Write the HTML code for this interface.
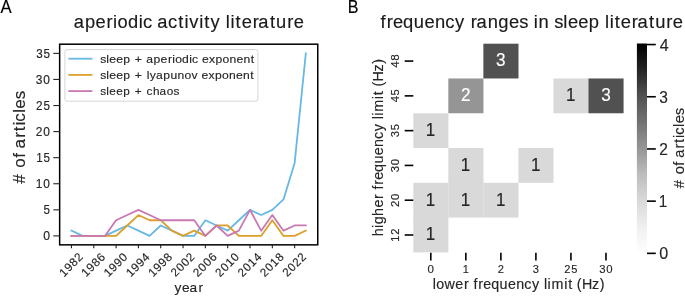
<!DOCTYPE html>
<html><head><meta charset="utf-8"><title>figure</title>
<style>html,body{margin:0;padding:0;background:#fff;width:685px;height:296px;overflow:hidden}
svg text{font-family:"Liberation Sans",sans-serif}</style></head>
<body><svg width="685" height="296" viewBox="0 0 685 296" style="display:block;will-change:transform;font-family:&quot;Liberation Sans&quot;,sans-serif"><defs><linearGradient id="cb" x1="0" y1="0" x2="0" y2="1"><stop offset="0.0000" stop-color="#000000"/><stop offset="0.0312" stop-color="#080808"/><stop offset="0.0625" stop-color="#111111"/><stop offset="0.0938" stop-color="#1b1b1b"/><stop offset="0.1250" stop-color="#242424"/><stop offset="0.1562" stop-color="#2f2f2f"/><stop offset="0.1875" stop-color="#3a3a3a"/><stop offset="0.2188" stop-color="#464646"/><stop offset="0.2500" stop-color="#515151"/><stop offset="0.2812" stop-color="#5a5a5a"/><stop offset="0.3125" stop-color="#626262"/><stop offset="0.3438" stop-color="#6a6a6a"/><stop offset="0.3750" stop-color="#727272"/><stop offset="0.4062" stop-color="#7b7b7b"/><stop offset="0.4375" stop-color="#848484"/><stop offset="0.4688" stop-color="#8d8d8d"/><stop offset="0.5000" stop-color="#959595"/><stop offset="0.5312" stop-color="#9f9f9f"/><stop offset="0.5625" stop-color="#a9a9a9"/><stop offset="0.5938" stop-color="#b3b3b3"/><stop offset="0.6250" stop-color="#bdbdbd"/><stop offset="0.6562" stop-color="#c4c4c4"/><stop offset="0.6875" stop-color="#cbcbcb"/><stop offset="0.7188" stop-color="#d2d2d2"/><stop offset="0.7500" stop-color="#d9d9d9"/><stop offset="0.7812" stop-color="#dfdfdf"/><stop offset="0.8125" stop-color="#e4e4e4"/><stop offset="0.8438" stop-color="#eaeaea"/><stop offset="0.8750" stop-color="#f0f0f0"/><stop offset="0.9062" stop-color="#f4f4f4"/><stop offset="0.9375" stop-color="#f7f7f7"/><stop offset="0.9688" stop-color="#fbfbfb"/><stop offset="1.0000" stop-color="#ffffff"/></linearGradient></defs><rect width="685" height="296" fill="#fff"/><polyline points="71.45,230.69 82.61,235.90 93.77,235.90 104.93,235.90 116.09,230.69 127.25,225.47 138.41,230.69 149.57,235.90 160.73,225.47 171.89,230.69 183.05,235.90 194.21,235.90 205.37,220.25 216.53,225.47 227.69,230.69 238.85,220.25 250.01,209.83 261.17,215.04 272.33,209.83 283.49,199.40 294.65,162.89 305.81,53.38" fill="none" stroke="#66B8E6" stroke-width="1.8" stroke-linejoin="round" stroke-linecap="square"/><polyline points="71.45,235.90 82.61,235.90 93.77,235.90 104.93,235.90 116.09,235.90 127.25,225.47 138.41,215.04 149.57,220.25 160.73,220.25 171.89,230.69 183.05,235.90 194.21,230.69 205.37,235.90 216.53,225.47 227.69,225.47 238.85,235.90 250.01,235.90 261.17,235.90 272.33,220.25 283.49,235.90 294.65,235.90 305.81,230.69" fill="none" stroke="#DBA02A" stroke-width="1.8" stroke-linejoin="round" stroke-linecap="square"/><polyline points="71.45,235.90 82.61,235.90 93.77,235.90 104.93,235.90 116.09,220.25 127.25,215.04 138.41,209.83 149.57,215.04 160.73,220.25 171.89,220.25 183.05,220.25 194.21,220.25 205.37,235.90 216.53,225.47 227.69,235.90 238.85,230.69 250.01,209.83 261.17,230.69 272.33,215.04 283.49,230.69 294.65,225.47 305.81,225.47" fill="none" stroke="#C878B2" stroke-width="1.8" stroke-linejoin="round" stroke-linecap="square"/><rect x="64.9" y="49.6" width="193.0" height="51.6" rx="2.2" fill="#fff" fill-opacity="0.8" stroke="#d6d6d6" stroke-width="1"/><line x1="68.4" y1="58.70" x2="92.4" y2="58.70" stroke="#66B8E6" stroke-width="1.8"/><text transform="scale(1.0332,1)" x="96.93 102.84 105.75 112.42 119.18 130.38 141.46 148.68 155.47 162.49 166.69 169.55 176.25 183.22 185.93 195.54 202.34 208.53 215.26 222.03 228.82 235.57 242.70" y="63.20" font-size="11.76" fill="#262626" stroke="#262626" stroke-width="0.15">sleep+aperiodicexponent</text><line x1="68.4" y1="74.90" x2="92.4" y2="74.90" stroke="#DBA02A" stroke-width="1.8"/><text transform="scale(1.0314,1)" x="97.10 103.01 105.94 112.62 119.39 130.60 142.29 145.31 151.15 158.38 165.21 172.14 178.89 185.72 195.47 202.28 208.48 215.22 222.00 228.80 235.56 242.70" y="79.35" font-size="11.76" fill="#262626" stroke="#262626" stroke-width="0.15">sleep+lyapunovexponent</text><line x1="68.4" y1="91.10" x2="92.4" y2="91.10" stroke="#C878B2" stroke-width="1.8"/><text transform="scale(1.0022,1)" x="100.01 106.05 109.12 115.99 122.97 134.51 146.22 152.63 159.17 166.45 173.16" y="95.50" font-size="11.76" fill="#262626" stroke="#262626" stroke-width="0.15">sleep+chaos</text><rect x="59.65" y="44.2" width="258.10" height="200.65" fill="none" stroke="#000" stroke-width="1.5"/><line x1="53.3" y1="235.90" x2="59.65" y2="235.90" stroke="#222" stroke-width="1.1"/><text transform="scale(1.0020,1)" x="43.07" y="240.11" font-size="12.18" fill="#262626" stroke="#262626" stroke-width="0.15">0</text><line x1="53.3" y1="209.83" x2="59.65" y2="209.83" stroke="#222" stroke-width="1.1"/><text transform="scale(0.9524,1)" x="45.70" y="213.97" font-size="12.18" fill="#262626" stroke="#262626" stroke-width="0.15">5</text><line x1="53.3" y1="183.75" x2="59.65" y2="183.75" stroke="#222" stroke-width="1.1"/><text transform="scale(0.9784,1)" x="36.61 44.19" y="187.96" font-size="12.18" fill="#262626" stroke="#262626" stroke-width="0.15">10</text><line x1="53.3" y1="157.68" x2="59.65" y2="157.68" stroke="#222" stroke-width="1.1"/><text transform="scale(0.9524,1)" x="37.95 45.70" y="161.82" font-size="12.18" fill="#262626" stroke="#262626" stroke-width="0.15">15</text><line x1="53.3" y1="131.60" x2="59.65" y2="131.60" stroke="#222" stroke-width="1.1"/><text transform="scale(0.9829,1)" x="36.34 43.97" y="135.81" font-size="12.18" fill="#262626" stroke="#262626" stroke-width="0.15">20</text><line x1="53.3" y1="105.53" x2="59.65" y2="105.53" stroke="#222" stroke-width="1.1"/><text transform="scale(0.9575,1)" x="37.64 45.44" y="109.73" font-size="12.18" fill="#262626" stroke="#262626" stroke-width="0.15">25</text><line x1="53.3" y1="79.45" x2="59.65" y2="79.45" stroke="#222" stroke-width="1.1"/><text transform="scale(0.9823,1)" x="36.49 44.00" y="83.66" font-size="12.18" fill="#262626" stroke="#262626" stroke-width="0.15">30</text><line x1="53.3" y1="53.38" x2="59.65" y2="53.38" stroke="#222" stroke-width="1.1"/><text transform="scale(0.9574,1)" x="37.77 45.45" y="57.58" font-size="12.18" fill="#262626" stroke="#262626" stroke-width="0.15">35</text><line x1="71.45" y1="244.85" x2="71.45" y2="248.3" stroke="#222" stroke-width="1.1"/><g transform="translate(70.95,264.60) rotate(-45)"><text transform="scale(0.9915,1)" x="-14.16 -6.94 0.24 7.32" y="4.06" font-size="11.76" fill="#262626" stroke="#262626" stroke-width="0.15">1982</text></g><line x1="93.77" y1="244.85" x2="93.77" y2="248.3" stroke="#222" stroke-width="1.1"/><g transform="translate(93.27,264.60) rotate(-45)"><text transform="scale(1.0095,1)" x="-14.19 -7.10 -0.04 7.04" y="4.06" font-size="11.76" fill="#262626" stroke="#262626" stroke-width="0.15">1986</text></g><line x1="116.09" y1="244.85" x2="116.09" y2="248.3" stroke="#222" stroke-width="1.1"/><g transform="translate(115.59,264.60) rotate(-45)"><text transform="scale(1.0014,1)" x="-14.25 -7.10 0.01 7.13" y="4.06" font-size="11.76" fill="#262626" stroke="#262626" stroke-width="0.15">1990</text></g><line x1="138.41" y1="244.85" x2="138.41" y2="248.3" stroke="#222" stroke-width="1.1"/><g transform="translate(137.91,264.60) rotate(-45)"><text transform="scale(1.0008,1)" x="-14.32 -7.16 -0.04 7.14" y="4.06" font-size="11.76" fill="#262626" stroke="#262626" stroke-width="0.15">1994</text></g><line x1="160.73" y1="244.85" x2="160.73" y2="248.3" stroke="#222" stroke-width="1.1"/><g transform="translate(160.23,264.60) rotate(-45)"><text transform="scale(1.0069,1)" x="-14.19 -7.08 -0.00 7.07" y="4.06" font-size="11.76" fill="#262626" stroke="#262626" stroke-width="0.15">1998</text></g><line x1="183.05" y1="244.85" x2="183.05" y2="248.3" stroke="#222" stroke-width="1.1"/><g transform="translate(182.55,264.60) rotate(-45)"><text transform="scale(0.9829,1)" x="-14.14 -6.78 0.47 7.61" y="4.06" font-size="11.76" fill="#262626" stroke="#262626" stroke-width="0.15">2002</text></g><line x1="205.37" y1="244.85" x2="205.37" y2="248.3" stroke="#222" stroke-width="1.1"/><g transform="translate(204.87,264.60) rotate(-45)"><text transform="scale(1.0005,1)" x="-14.17 -6.94 0.18 7.33" y="4.06" font-size="11.76" fill="#262626" stroke="#262626" stroke-width="0.15">2006</text></g><line x1="227.69" y1="244.85" x2="227.69" y2="248.3" stroke="#222" stroke-width="1.1"/><g transform="translate(227.19,264.60) rotate(-45)"><text transform="scale(0.9807,1)" x="-14.36 -6.98 0.25 7.55" y="4.06" font-size="11.76" fill="#262626" stroke="#262626" stroke-width="0.15">2010</text></g><line x1="250.01" y1="244.85" x2="250.01" y2="248.3" stroke="#222" stroke-width="1.1"/><g transform="translate(249.51,264.60) rotate(-45)"><text transform="scale(0.9803,1)" x="-14.42 -7.04 0.19 7.56" y="4.06" font-size="11.76" fill="#262626" stroke="#262626" stroke-width="0.15">2014</text></g><line x1="272.33" y1="244.85" x2="272.33" y2="248.3" stroke="#222" stroke-width="1.1"/><g transform="translate(271.83,264.60) rotate(-45)"><text transform="scale(0.9860,1)" x="-14.30 -6.96 0.23 7.49" y="4.06" font-size="11.76" fill="#262626" stroke="#262626" stroke-width="0.15">2018</text></g><line x1="294.65" y1="244.85" x2="294.65" y2="248.3" stroke="#222" stroke-width="1.1"/><g transform="translate(294.15,264.60) rotate(-45)"><text transform="scale(0.9730,1)" x="-14.25 -6.81 0.40 7.72" y="4.06" font-size="11.76" fill="#262626" stroke="#262626" stroke-width="0.15">2022</text></g><text transform="scale(1.0319,1)" x="71.46 82.36 92.62 103.22 109.57 113.89 124.01 134.54 138.64 152.43 162.88 172.70 178.76 183.36 193.00 197.92 203.98 218.87 223.42 228.33 234.25 244.85 250.33 261.60 267.55 278.42 284.63" y="27.60" font-size="17.75" fill="#1a1a1a" stroke="#1a1a1a" stroke-width="0.15">aperiodicactivityliterature</text><text transform="scale(0.9524,1)" x="0.63" y="12.70" font-size="17.54" fill="#000" stroke="#000" stroke-width="0.15">A</text><text transform="scale(1.0019,1)" x="174.16 181.72 189.14 198.04" y="292.00" font-size="13.65" fill="#262626" stroke="#262626" stroke-width="0.15">year</text><g transform="translate(19.20,138.15) rotate(-90)"><text transform="scale(1.0482,1)" x="-43.62 -28.16 -18.66 -9.79 0.43 6.51 11.98 15.65 24.22 28.16 37.04" y="5.77" font-size="16.28" fill="#262626" stroke="#262626" stroke-width="0.15">&#35;ofarticles</text></g><rect x="483.36" y="43.70" width="35.13" height="34.78" fill="#515151"/><rect x="448.33" y="78.48" width="35.13" height="34.78" fill="#959595"/><rect x="553.42" y="78.48" width="35.13" height="34.78" fill="#d9d9d9"/><rect x="588.45" y="78.48" width="35.13" height="34.78" fill="#515151"/><rect x="413.30" y="113.26" width="35.13" height="34.78" fill="#d9d9d9"/><rect x="448.33" y="148.04" width="35.13" height="35.38" fill="#d9d9d9"/><rect x="518.39" y="148.04" width="35.13" height="34.78" fill="#d9d9d9"/><rect x="413.30" y="182.82" width="35.13" height="35.38" fill="#d9d9d9"/><rect x="448.33" y="182.82" width="35.13" height="34.78" fill="#d9d9d9"/><rect x="483.36" y="182.82" width="35.13" height="34.78" fill="#d9d9d9"/><rect x="413.30" y="217.60" width="35.13" height="34.78" fill="#d9d9d9"/><text transform="scale(0.9624,1)" x="515.49" y="66.35" font-size="17.85" fill="#ffffff" stroke="#ffffff" stroke-width="0.15">3</text><text transform="scale(0.9628,1)" x="478.87" y="101.26" font-size="17.85" fill="#ffffff" stroke="#ffffff" stroke-width="0.15">2</text><text transform="scale(0.9524,1)" x="594.26" y="101.17" font-size="17.85" fill="#262626" stroke="#262626" stroke-width="0.15">1</text><text transform="scale(0.9624,1)" x="624.68" y="101.13" font-size="17.85" fill="#ffffff" stroke="#ffffff" stroke-width="0.15">3</text><text transform="scale(0.9524,1)" x="447.13" y="135.96" font-size="17.85" fill="#262626" stroke="#262626" stroke-width="0.15">1</text><text transform="scale(0.9524,1)" x="483.92" y="170.74" font-size="17.85" fill="#262626" stroke="#262626" stroke-width="0.15">1</text><text transform="scale(0.9524,1)" x="557.48" y="170.74" font-size="17.85" fill="#262626" stroke="#262626" stroke-width="0.15">1</text><text transform="scale(0.9524,1)" x="447.13" y="205.51" font-size="17.85" fill="#262626" stroke="#262626" stroke-width="0.15">1</text><text transform="scale(0.9524,1)" x="483.92" y="205.51" font-size="17.85" fill="#262626" stroke="#262626" stroke-width="0.15">1</text><text transform="scale(0.9524,1)" x="520.70" y="205.51" font-size="17.85" fill="#262626" stroke="#262626" stroke-width="0.15">1</text><text transform="scale(0.9524,1)" x="447.13" y="240.30" font-size="17.85" fill="#262626" stroke="#262626" stroke-width="0.15">1</text><line x1="404.7" y1="61.09" x2="413.3" y2="61.09" stroke="#000" stroke-width="1.6"/><g transform="translate(394.70,61.09) rotate(-90)"><text transform="scale(1.0110,1)" x="-6.55 0.31" y="3.99" font-size="11.55" fill="#262626" stroke="#262626" stroke-width="0.15">48</text></g><line x1="404.7" y1="95.87" x2="413.3" y2="95.87" stroke="#000" stroke-width="1.6"/><g transform="translate(394.70,95.87) rotate(-90)"><text transform="scale(0.9767,1)" x="-6.56 0.52" y="3.93" font-size="11.55" fill="#262626" stroke="#262626" stroke-width="0.15">45</text></g><line x1="404.7" y1="130.65" x2="413.3" y2="130.65" stroke="#000" stroke-width="1.6"/><g transform="translate(394.70,130.65) rotate(-90)"><text transform="scale(0.9574,1)" x="-6.83 0.45" y="3.99" font-size="11.55" fill="#262626" stroke="#262626" stroke-width="0.15">35</text></g><line x1="404.7" y1="165.43" x2="413.3" y2="165.43" stroke="#000" stroke-width="1.6"/><g transform="translate(394.70,165.43) rotate(-90)"><text transform="scale(0.9823,1)" x="-6.85 0.27" y="3.99" font-size="11.55" fill="#262626" stroke="#262626" stroke-width="0.15">30</text></g><line x1="404.7" y1="200.21" x2="413.3" y2="200.21" stroke="#000" stroke-width="1.6"/><g transform="translate(394.70,200.21) rotate(-90)"><text transform="scale(0.9829,1)" x="-6.96 0.27" y="3.99" font-size="11.55" fill="#262626" stroke="#262626" stroke-width="0.15">20</text></g><line x1="404.7" y1="234.99" x2="413.3" y2="234.99" stroke="#000" stroke-width="1.6"/><g transform="translate(394.70,234.99) rotate(-90)"><text transform="scale(0.9577,1)" x="-6.97 0.25" y="4.07" font-size="11.55" fill="#262626" stroke="#262626" stroke-width="0.15">12</text></g><line x1="430.81" y1="252.8" x2="430.81" y2="260.6" stroke="#000" stroke-width="1.6"/><text transform="scale(1.0020,1)" x="426.73" y="272.89" font-size="11.55" fill="#262626" stroke="#262626" stroke-width="0.15">0</text><line x1="465.85" y1="252.8" x2="465.85" y2="260.6" stroke="#000" stroke-width="1.6"/><text transform="scale(0.9524,1)" x="485.76" y="272.91" font-size="11.55" fill="#262626" stroke="#262626" stroke-width="0.15">1</text><line x1="500.88" y1="252.8" x2="500.88" y2="260.6" stroke="#000" stroke-width="1.6"/><text transform="scale(0.9628,1)" x="517.00" y="272.97" font-size="11.55" fill="#262626" stroke="#262626" stroke-width="0.15">2</text><line x1="535.90" y1="252.8" x2="535.90" y2="260.6" stroke="#000" stroke-width="1.6"/><text transform="scale(0.9624,1)" x="553.63" y="272.89" font-size="11.55" fill="#262626" stroke="#262626" stroke-width="0.15">3</text><line x1="570.93" y1="252.8" x2="570.93" y2="260.6" stroke="#000" stroke-width="1.6"/><text transform="scale(0.9575,1)" x="589.33 596.73" y="272.89" font-size="11.55" fill="#262626" stroke="#262626" stroke-width="0.15">25</text><line x1="605.97" y1="252.8" x2="605.97" y2="260.6" stroke="#000" stroke-width="1.6"/><text transform="scale(0.9823,1)" x="610.03 617.16" y="272.89" font-size="11.55" fill="#262626" stroke="#262626" stroke-width="0.15">30</text><text transform="scale(1.0348,1)" x="367.75 373.65 379.83 389.54 399.93 410.24 420.41 430.34 439.78 455.01 460.47 471.32 481.57 491.92 501.72 515.82 520.33 535.50 544.41 548.80 558.84 569.03 584.60 589.14 594.04 599.93 610.51 615.97 627.21 633.14 643.98 650.17" y="27.70" font-size="17.75" fill="#1a1a1a" stroke="#1a1a1a" stroke-width="0.15">frequencyrangesinsleepliterature</text><text transform="scale(0.9168,1)" x="379.39" y="12.80" font-size="17.54" fill="#000" stroke="#000" stroke-width="0.15">B</text><text transform="scale(1.0270,1)" x="421.45 424.87 432.87 443.38 451.72 461.01 465.67 470.57 478.23 486.44 494.59 502.62 510.46 517.92 529.64 533.22 537.04 549.37 553.25 561.71 566.74 576.52 583.92" y="288.70" font-size="13.91" fill="#262626" stroke="#262626" stroke-width="0.15">lowerfrequencylimit(Hz)</text><g transform="translate(379.40,147.85) rotate(-90)"><text transform="scale(1.0351,1)" x="-85.48 -77.34 -73.90 -65.76 -57.73 -49.48 -40.29 -35.69 -30.86 -23.28 -15.17 -7.12 0.82 8.57 15.94 27.54 31.08 34.83 47.05 50.87 59.23 64.18 73.87 81.19" y="3.63" font-size="13.86" fill="#262626" stroke="#262626" stroke-width="0.15">higherfrequencylimit(Hz)</text></g><rect x="636.9" y="43.5" width="10.10" height="209.90" fill="url(#cb)"/><line x1="647.0" y1="253.35" x2="655.8" y2="253.35" stroke="#000" stroke-width="1.6"/><text transform="scale(1.0020,1)" x="658.05" y="259.30" font-size="16.07" fill="#262626" stroke="#262626" stroke-width="0.15">0</text><line x1="647.0" y1="201.15" x2="655.8" y2="201.15" stroke="#000" stroke-width="1.6"/><text transform="scale(0.9524,1)" x="691.80" y="207.13" font-size="16.07" fill="#262626" stroke="#262626" stroke-width="0.15">1</text><line x1="647.0" y1="148.95" x2="655.8" y2="148.95" stroke="#000" stroke-width="1.6"/><text transform="scale(0.9628,1)" x="684.66" y="155.01" font-size="16.07" fill="#262626" stroke="#262626" stroke-width="0.15">2</text><line x1="647.0" y1="96.75" x2="655.8" y2="96.75" stroke="#000" stroke-width="1.6"/><text transform="scale(0.9624,1)" x="685.14" y="102.70" font-size="16.07" fill="#262626" stroke="#262626" stroke-width="0.15">3</text><line x1="647.0" y1="44.55" x2="655.8" y2="44.55" stroke="#000" stroke-width="1.6"/><text transform="scale(0.9995,1)" x="659.99" y="50.53" font-size="16.07" fill="#262626" stroke="#262626" stroke-width="0.15">4</text><g transform="translate(679.20,148.82) rotate(-90)"><text transform="scale(1.0482,1)" x="-37.71 -24.34 -16.13 -8.46 0.37 5.62 10.36 13.53 20.94 24.34 32.02" y="4.99" font-size="14.07" fill="#262626" stroke="#262626" stroke-width="0.15">&#35;ofarticles</text></g></svg></body></html>
